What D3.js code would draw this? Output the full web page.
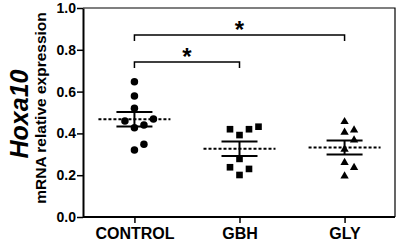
<!DOCTYPE html>
<html>
<head>
<meta charset="utf-8">
<script src="https://cdnjs.cloudflare.com/ajax/libs/d3/7.8.5/d3.min.js"></script>
<style>
  body { margin: 0; background: #fff; }
  svg { display: block; font-family: "Liberation Sans", Arial, sans-serif; }
</style>
</head>
<body>
<svg id="chart" width="401" height="242"></svg>
<script>
// groups and the individual values
var groups = ["CONTROL", "GBH", "GLY"];
var controlValues = [0.647, 0.579, 0.520, 0.469, 0.459, 0.440, 0.427, 0.348, 0.321];
var gbhValues = [0.432, 0.420, 0.420, 0.392, 0.278, 0.238, 0.230, 0.201];
var glyValues = [0.456, 0.416, 0.405, 0.368, 0.324, 0.260, 0.236, 0.196];
var yTicks = [0, 0.2, 0.4, 0.6, 0.8, 1.0];
// significance brackets: from group, to group, bracket level
var comparisons = [
  {from: "CONTROL", to: "GBH", level: 0.742},
  {from: "CONTROL", to: "GLY", level: 0.871}
];

var svg = d3.select("#chart");
// note: "top" clashes with window.top, so plot edges get their own names
var plotLeft = 83, plotRight = 395, plotTop = 8, plotBottom = 217;

var x = d3.scalePoint().domain(groups).range([plotLeft + 1, plotRight]).padding(0.48);
var y = d3.scaleLinear().domain([0, 1]).range([plotBottom, plotTop]);

var seriesData = [
  {name: "CONTROL", values: controlValues, shape: d3.symbolCircle, size: 44},
  {name: "GBH", values: gbhValues, shape: d3.symbolSquare, size: 44},
  {name: "GLY", values: glyValues, shape: d3.symbolTriangle, size: 30}
];

// frame: thin top/right, thick left/bottom (axes)
svg.append("path")
  .attr("d", "M" + plotLeft + "," + plotTop + "H" + plotRight + "V" + plotBottom)
  .attr("fill", "none").attr("stroke", "#000").attr("stroke-width", 1.2);

var yAxis = svg.append("g")
  .attr("transform", "translate(" + plotLeft + ",0)")
  .call(d3.axisLeft(y).tickValues(yTicks).tickFormat(d3.format(".1f")).tickSize(6).tickSizeOuter(0));
yAxis.select(".domain").attr("stroke-width", 2);
yAxis.selectAll(".tick line").attr("stroke-width", 1.5);
yAxis.selectAll("text").attr("font-size", 14).attr("font-weight", "bold")
  .attr("x", -7).attr("fill", "#000");

var xAxis = svg.append("g")
  .attr("transform", "translate(0," + plotBottom + ")")
  .call(d3.axisBottom(x).tickSize(6).tickSizeOuter(0));
xAxis.select(".domain").attr("d", "M" + plotLeft + ",0H" + plotRight).attr("stroke-width", 2);
xAxis.selectAll(".tick line").attr("stroke-width", 1.5);
xAxis.selectAll("text").attr("font-size", 16).attr("font-weight", "bold")
  .attr("y", 11).attr("fill", "#000");

// axis titles
svg.append("text")
  .attr("transform", "translate(28,114) rotate(-90)")
  .attr("text-anchor", "middle")
  .attr("font-size", 25).attr("font-weight", "bold").attr("font-style", "italic")
  .text("Hoxa10");
svg.append("text")
  .attr("transform", "translate(46,108) rotate(-90)")
  .attr("text-anchor", "middle")
  .attr("font-size", 15.5).attr("font-weight", "bold")
  .text("mRNA relative expression");

// simple swarm so neighbouring points sit side by side
function swarm(values, cx) {
  var step = 9.5, minDist = 9.5;
  var placed = [];
  var order = values.slice().sort(d3.ascending);
  order.forEach(function(v) {
    var py = y(v);
    var tries = [0, 1, -1, 2, -2, 3, -3];
    for (var i = 0; i < tries.length; i++) {
      var px = cx + tries[i] * step;
      var hit = placed.some(function(p) {
        return Math.hypot(p.x - px, p.y - py) < minDist;
      });
      if (!hit) { placed.push({x: px, y: py, v: v}); break; }
    }
  });
  return placed;
}

seriesData.forEach(function(s) {
  var cx = x(s.name);
  var mean = d3.mean(s.values);
  var sem = d3.deviation(s.values) / Math.sqrt(s.values.length);
  var g = svg.append("g");

  // dashed mean line
  g.append("line")
    .attr("x1", cx - 36).attr("x2", cx + 36)
    .attr("y1", y(mean)).attr("y2", y(mean))
    .attr("stroke", "#000").attr("stroke-width", 2)
    .attr("stroke-dasharray", "3,2");

  // SEM whiskers
  g.append("line")
    .attr("x1", cx).attr("x2", cx)
    .attr("y1", y(mean + sem)).attr("y2", y(mean - sem))
    .attr("stroke", "#000").attr("stroke-width", 2);
  [mean + sem, mean - sem].forEach(function(v) {
    g.append("line")
      .attr("x1", cx - 18).attr("x2", cx + 18)
      .attr("y1", y(v)).attr("y2", y(v))
      .attr("stroke", "#000").attr("stroke-width", 2);
  });

  g.selectAll("path.pt")
    .data(swarm(s.values, cx))
    .enter().append("path")
    .attr("class", "pt")
    .attr("d", d3.symbol().type(s.shape).size(s.size))
    .attr("transform", function(d) { return "translate(" + d.x + "," + d.y + ")"; })
    .attr("fill", "#000");
});

// significance brackets
comparisons.forEach(function(c) {
  var x1 = x(c.from), x2 = x(c.to), ly = y(c.level);
  svg.append("path")
    .attr("d", "M" + x1 + "," + (ly + 6) + "V" + ly + "H" + x2 + "V" + (ly + 6))
    .attr("fill", "none").attr("stroke", "#000").attr("stroke-width", 1.5);
  svg.append("text")
    .attr("x", (x1 + x2) / 2).attr("y", ly + 3)
    .attr("text-anchor", "middle")
    .attr("font-size", 24).attr("font-weight", "bold")
    .text("*");
});
</script>
</body>
</html>
